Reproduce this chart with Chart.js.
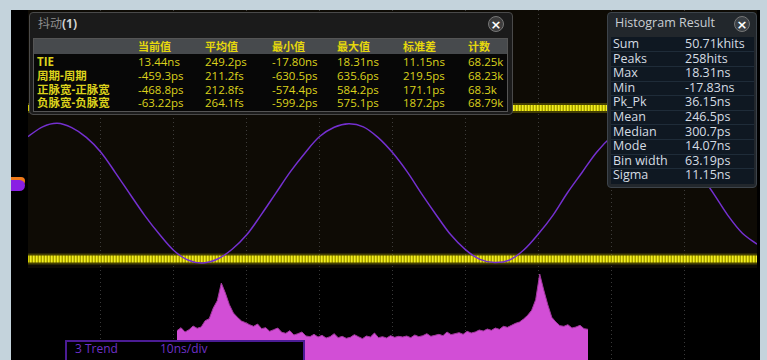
<!DOCTYPE html>
<html>
<head>
<meta charset="utf-8">
<script src="https://cdn.jsdelivr.net/npm/chart.js@4.4.1/dist/chart.umd.min.js"></script>
<style>
  html, body { margin: 0; padding: 0; }
  body {
    width: 767px; height: 360px; position: relative; overflow: hidden;
    background: #c4d3dc;
    font-family: "Open Sans", "Noto Sans CJK SC", sans-serif;
  }
  .abs { position: absolute; }
  #screen { left: 11px; top: 10px; width: 749px; height: 350px; background: #000; }
  #trendBg { left: 28px; top: 10px; width: 729px; height: 258px; background: #0e0b05; }
  #chart { left: 0; top: 0; }
  .t { position: absolute; white-space: nowrap; line-height: 14px; height: 14px; }
  .panel { position: absolute; box-sizing: border-box; border-radius: 4px; }
  .close {
    position: absolute; width: 16px; height: 16px; border-radius: 50%;
    box-sizing: border-box; color: #fff; font-weight: bold;
    font-size: 13px; line-height: 15px; text-align: center;
    font-family: "DejaVu Sans", sans-serif;
  }
</style>
</head>
<body>
<div id="screen" class="abs"></div>
<div id="trendBg" class="abs"></div>
<canvas id="chart" class="abs" width="767" height="360"></canvas>

<!-- channel 3 offset marker -->
<div class="abs" style="left:11px;top:177px;width:14px;height:8px;background:#f07a1a;border-radius:0 5px 5px 0;"></div>
<div class="abs" style="left:11px;top:180px;width:14px;height:11px;background:#8a1fe4;border-radius:0 6px 6px 0;"></div>

<div id="overlay"></div>

<script>
// ---- jitter measurement table ----
const jitterHeaders = ['当前值', '平均值', '最小值', '最大值', '标准差', '计数'];
const jitterNames   = ['TIE', '周期-周期', '正脉宽-正脉宽', '负脉宽-负脉宽'];
const jitterCurrent = ['13.44ns', '-459.3ps', '-468.8ps', '-63.22ps'];
const jitterMean    = ['249.2ps', '211.2fs', '212.8fs', '264.1fs'];
const jitterMin     = ['-17.80ns', '-630.5ps', '-574.4ps', '-599.2ps'];
const jitterMax     = ['18.31ns', '635.6ps', '584.2ps', '575.1ps'];
const jitterStd     = ['11.15ns', '219.5ps', '171.1ps', '187.2ps'];
const jitterCount   = ['68.25k', '68.23k', '68.3k', '68.79k'];

// ---- histogram statistics ----
const histLabels = ['Sum', 'Peaks', 'Max', 'Min', 'Pk_Pk', 'Mean', 'Median', 'Mode', 'Bin width', 'Sigma'];
const histValues = ['50.71khits', '258hits', '18.31ns', '-17.83ns', '36.15ns', '246.5ps', '300.7ps', '14.07ns', '63.19ps', '11.15ns'];

// ---- TIE trend (time in divisions, TIE in ns) ----
const trendTime = [0, 0.2, 0.4, 0.6, 0.8, 1, 1.2, 1.4, 1.6, 1.8,
                   2, 2.2, 2.4, 2.6, 2.8, 3, 3.2, 3.4, 3.6, 3.8,
                   4, 4.2, 4.4, 4.6, 4.8, 5, 5.2, 5.4, 5.6, 5.8,
                   6, 6.2, 6.4, 6.6, 6.8, 7, 7.2, 7.4, 7.6, 7.8,
                   8, 8.2, 8.4, 8.6, 8.8, 9, 9.2, 9.4, 9.6, 9.8, 10];
const trendNs = [14.6, 17.1, 18.0, 16.9, 14.4, 10.6, 5.3, -0.2, -5.6, -10.4,
                 -14.6, -17.1, -17.80, -16.8, -14.3, -10.6, -5.4, 0.1, 5.6, 10.4,
                 14.6, 17.0, 17.9, 17.1, 14.4, 10.5, 5.6, -0.1, -5.5, -10.6,
                 -14.4, -16.9, -17.7, -17.1, -14.5, -10.4, -5.6, 0.2, 5.4, 10.6,
                 14.5, 17.0, 18.31, 17.0, 14.6, 10.4, 5.5, 0.1, -5.6, -10.2, -13.0];

// ---- channel 1 clock traces (compressed to bands) ----
const bandTime    = [0, 10];
const bandUpperNs = [21.9, 21.9];
const bandLowerNs = [-16.8, -16.8];

// ---- TIE histogram (hits per bin) ----
const histStartNs = -17.83;
const histBinNs = 0.351;
const histCounts = [
  88, 97, 84, 91, 102, 95, 99, 118, 124, 156,
  178, 231, 201, 166, 141, 128, 117, 112, 106, 101,
  108, 94, 97, 86, 91, 96, 83, 80, 88, 75,
  79, 84, 72, 70, 77,
  69, 74, 66, 70, 79, 67, 71, 65, 68, 76, 70, 64, 72, 69, 81, 67, 70, 66, 73, 68, 71,
  69, 72, 67, 75, 70, 73, 79, 71, 74, 77, 73, 84, 76, 79, 82, 77, 86, 81, 84, 90,
  87, 93, 89, 96, 92, 101, 98, 104, 110, 114,
  123, 134, 149, 181, 258, 210, 166, 128, 114, 103, 101, 106, 96, 99, 104, 94, 92
];

// ---------------------------------------------------------------
const canvas = document.getElementById('chart');
const ctx = canvas.getContext('2d');

// vertical striping of the compressed clock traces
function stripePattern() {
  const c = document.createElement('canvas');
  c.width = 3; c.height = 1;
  const g = c.getContext('2d');
  ['#f0ec2c', '#d4ce00', '#a6a000'].forEach((col, i) => { g.fillStyle = col; g.fillRect(i, 0, 1, 1); });
  return ctx.createPattern(c, 'repeat');
}
const stripes = stripePattern();

const pts = (xs, ys) => xs.map((x, i) => ({ x, y: ys[i] }));
const histPts = histCounts.map((n, i) => ({ x: histStartNs + histBinNs * (i + 0.5), y: n }));

new Chart(ctx, {
  type: 'line',
  data: {
    datasets: [
      { label: '3 Trend', data: pts(trendTime, trendNs), xAxisID: 'x', yAxisID: 'y',
        borderColor: '#7430d0', borderWidth: 1.5, pointRadius: 0, tension: 0.35, order: 0 },
      { label: 'C1 upper', data: pts(bandTime, bandUpperNs), xAxisID: 'x', yAxisID: 'y',
        borderColor: stripes, borderWidth: 6, pointRadius: 0, order: 1 },
      { label: 'C1 lower', data: pts(bandTime, bandLowerNs), xAxisID: 'x', yAxisID: 'y',
        borderColor: stripes, borderWidth: 7, pointRadius: 0, order: 1 },
      { label: 'C1 upper glow', data: pts(bandTime, bandUpperNs), xAxisID: 'x', yAxisID: 'y',
        borderColor: 'rgba(170,160,0,0.35)', borderWidth: 10, pointRadius: 0, order: 2 },
      { label: 'C1 lower glow', data: pts(bandTime, bandLowerNs), xAxisID: 'x', yAxisID: 'y',
        borderColor: 'rgba(170,160,0,0.35)', borderWidth: 11, pointRadius: 0, order: 2 },
      { label: 'TIE histogram', data: histPts, xAxisID: 'xh', yAxisID: 'yh',
        borderColor: '#a2389f', borderWidth: 1, backgroundColor: '#d24ed6',
        fill: 'start', pointRadius: 0, tension: 0, order: 3 }
    ]
  },
  options: {
    responsive: false,
    animation: false,
    events: [],
    layout: { padding: { left: 28, right: 10, top: 10, bottom: 0 } },
    plugins: { legend: { display: false }, tooltip: { enabled: false } },
    scales: {
      x: {
        type: 'linear', min: 0, max: 10, display: true,
        ticks: { display: false, stepSize: 1 },
        grid: {
          drawTicks: false, lineWidth: 1,
          color: c => (c.tick && (c.tick.value === 0 || c.tick.value === 10)) ? 'rgba(0,0,0,0)' : 'rgba(95,95,95,0.6)'
        },
        border: { display: false, dash: [1, 3] }
      },
      y:  { type: 'linear', display: false, min: -42.69, max: 47.05 },
      xh: { type: 'linear', display: false, min: -30.63, max: 32.86 },
      yh: { type: 'linear', display: false, min: 0, max: 1050 }
    }
  }
});

// ---------------------------------------------------------------
// overlay panels
const overlay = document.getElementById('overlay');
function el(tag, style, html) {
  const e = document.createElement(tag);
  Object.assign(e.style, style);
  if (html !== undefined) e.innerHTML = html;
  overlay.appendChild(e);
  return e;
}
function text(x, cy, s, style) {
  const e = el('div', Object.assign({ left: x + 'px', top: (cy - 7) + 'px' }, style), s);
  e.className = 't';
  return e;
}

// jitter panel
el('div', { left: '29px', top: '12px', width: '484px', height: '103px', background: '#1b1b1b',
  border: '1px solid #4a4a4a' }).className = 'panel';
text(38, 24, '<span style="color:#8e8e8e">抖动</span><b style="color:#d2d2d2">(1)</b>', { fontSize: '12px' });
el('div', { left: '488px', top: '16px', background: '#3c3c3c', border: '1px solid #777' }, '×').className = 'close';
el('div', { position: 'absolute', left: '33px', top: '38px', width: '475px', height: '74px',
  background: '#070707', border: '1px solid #555', boxSizing: 'border-box' });
el('div', { position: 'absolute', left: '34px', top: '39px', width: '473px', height: '15px', background: '#474a4d' });

const jitterColX = [138, 205, 272, 337, 403, 468];
const jitterRowY = [62, 76, 90, 103];
const jitterCols = [jitterCurrent, jitterMean, jitterMin, jitterMax, jitterStd, jitterCount];
const yellow = '#dcd21c';
jitterHeaders.forEach((h, j) => text(jitterColX[j], 47, h, { color: '#e6d80c', fontSize: '11px', fontWeight: 'bold' }));
jitterNames.forEach((n, r) => {
  text(37, jitterRowY[r], n, { color: yellow, fontSize: '11.5px', fontWeight: 'bold' });
  jitterCols.forEach((col, j) => text(jitterColX[j], jitterRowY[r], col[r], { color: yellow, fontSize: '11.5px' }));
});

// histogram result panel
el('div', { left: '607px', top: '12px', width: '150px', height: '176px', background: '#22272c',
  border: '1px solid #3d444b' }).className = 'panel';
text(615, 23, 'Histogram Result', { color: '#c9ced3', fontSize: '12.5px' });
el('div', { left: '734px', top: '16px', background: '#3a3f44', border: '1px solid #777' }, '×').className = 'close';
el('div', { position: 'absolute', left: '611px', top: '37px', width: '143px', height: '147px', background: '#0f1822' });
histLabels.forEach((lab, k) => {
  const cy = 44 + 14.6 * k;
  if (k > 0) el('div', { position: 'absolute', left: '611px', top: Math.round(cy - 7.3) + 'px', width: '143px', height: '1px', background: '#1f2c39' });
  text(613, cy, lab, { color: '#d5dce3', fontSize: '12.5px' });
  text(685, cy, histValues[k], { color: '#d5dce3', fontSize: '12.5px' });
});

// trend label box
el('div', { position: 'absolute', left: '65px', top: '340px', width: '240px', height: '26px',
  background: '#000', border: '2px solid #4b1c94', boxSizing: 'border-box' });
text(75, 349, '3 Trend', { color: '#6e30c8', fontSize: '12px' });
text(160, 349, '10ns/div', { color: '#6e30c8', fontSize: '12px' });
</script>
</body>
</html>
